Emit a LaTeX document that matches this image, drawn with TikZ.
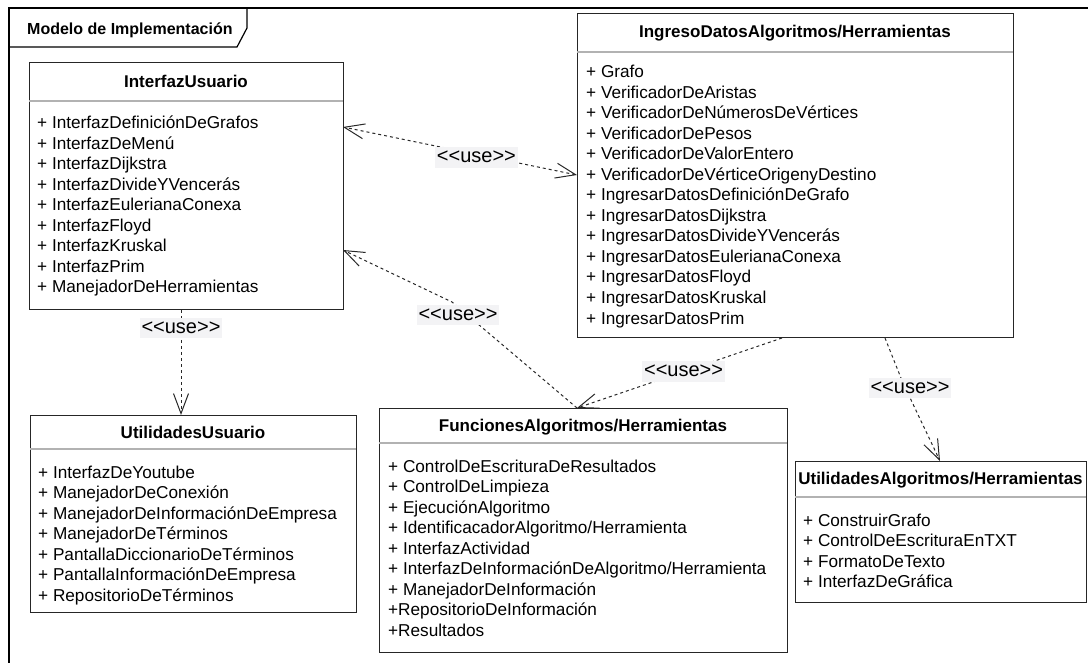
\documentclass[tikz,border=0pt]{standalone}
\usepackage{fontspec}
\setmainfont{Liberation Sans}
\usetikzlibrary{arrows.meta,calc}
\definecolor{lblbg}{RGB}{243,243,245}
\definecolor{edgecol}{RGB}{40,40,40}
\newcommand{\umlitems}[4]{%
  \foreach \itm [count=\i] in {#4} {
    \node[itemtext] (#1-\i) at (#2, {#3+(\i-1)*20.5}) {\itm};
  }}
\begin{document}
\begin{tikzpicture}[x=1pt,y=-1pt,
  >={Straight Barb[length=20pt,width=15pt]},
  classbox/.style={draw=black!85, line width=1pt, fill=white, inner sep=0pt, outer sep=0pt, anchor=north west},
  divider/.style={draw=black!30, line width=1.3pt},
  titletext/.style={font=\fontsize{17}{20}\selectfont\bfseries, inner sep=0pt, anchor=base},
  itemtext/.style={font=\fontsize{17.2}{20.5}\selectfont, inner sep=0pt, anchor=base west},
  usearrow/.style={draw=edgecol, line width=1pt, dash pattern=on 3pt off 3pt},
  lbl/.style={fill=lblbg, font=\fontsize{20}{22}\selectfont, inner xsep=2pt, inner ysep=1pt, text height=14.5pt, text depth=4pt}
]
\useasboundingbox (0,0) rectangle (1088,663);
% frame
\draw[line width=1.5pt, black] (9,663) -- (9,8) -- (1088,8);
\draw[line width=1.2pt, black] (9,47) -- (237,47) -- (247,28) -- (247,8);
\node[font=\fontsize{16}{18}\selectfont\bfseries, inner sep=0pt, anchor=base west] (frametitle) at (27,35) {Modelo de Implementación};

% InterfazUsuario
\node[classbox, minimum width=314pt, minimum height=247pt] (iu) at (29,63) {};
\draw[divider] ([yshift=-38pt]iu.north west) -- ([yshift=-38pt]iu.north east);
\node[titletext] (iu-title) at (186,88) {InterfazUsuario};
\umlitems{iu}{37}{129}{+ InterfazDefiniciónDeGrafos,+ InterfazDeMenú,+ InterfazDijkstra,+ InterfazDivideYVencerás,+ InterfazEulerianaConexa,+ InterfazFloyd,+ InterfazKruskal,+ InterfazPrim,+ ManejadorDeHerramientas}

% IngresoDatos
\node[classbox, minimum width=436pt, minimum height=324pt] (ing) at (577,14) {};
\draw[divider] ([yshift=-38pt]ing.north west) -- ([yshift=-38pt]ing.north east);
\node[titletext] (ing-title) at (795,38) {IngresoDatosAlgoritmos/Herramientas};
\umlitems{ing}{586}{78}{+ Grafo,+ VerificadorDeAristas,+ VerificadorDeNúmerosDeVértices,+ VerificadorDePesos,+ VerificadorDeValorEntero,+ VerificadorDeVérticeOrigenyDestino,+ IngresarDatosDefiniciónDeGrafo,+ IngresarDatosDijkstra,+ IngresarDatosDivideYVencerás,+ IngresarDatosEulerianaConexa,+ IngresarDatosFloyd,+ IngresarDatosKruskal,+ IngresarDatosPrim}

% UtilidadesUsuario
\node[classbox, minimum width=326pt, minimum height=197pt] (uu) at (30,415) {};
\draw[divider] ([yshift=-34pt]uu.north west) -- ([yshift=-34pt]uu.north east);
\node[titletext] (uu-title) at (193,438) {UtilidadesUsuario};
\umlitems{uu}{38}{478}{+ InterfazDeYoutube,+ ManejadorDeConexión,+ ManejadorDeInformaciónDeEmpresa,+ ManejadorDeTérminos,+ PantallaDiccionarioDeTérminos,+ PantallaInformaciónDeEmpresa,+ RepositorioDeTérminos}

% FuncionesAlgoritmos
\node[classbox, minimum width=408pt, minimum height=244pt] (fun) at (379,408) {};
\draw[divider] ([yshift=-35pt]fun.north west) -- ([yshift=-35pt]fun.north east);
\node[titletext] (fun-title) at (583,431) {FuncionesAlgoritmos/Herramientas};
\umlitems{fun}{388}{472}{+ ControlDeEscrituraDeResultados,+ ControlDeLimpieza,+ EjecuciónAlgoritmo,+ IdentificacadorAlgoritmo/Herramienta,+ InterfazActividad,+ InterfazDeInformaciónDeAlgoritmo/Herramienta,+ ManejadorDeInformación,+RepositorioDeInformación,+Resultados}

% UtilidadesAlgoritmos
\node[classbox, minimum width=291pt, minimum height=141pt] (ua) at (795,461) {};
\draw[divider] ([yshift=-36pt]ua.north west) -- ([yshift=-36pt]ua.north east);
\node[titletext] (ua-title) at (940.5,484) {UtilidadesAlgoritmos/Herramientas};
\umlitems{ua}{803}{526}{+ ConstruirGrafo,+ ControlDeEscrituraEnTXT,+ FormatoDeTexto,+ InterfazDeGráfica}

% connectors
\draw[usearrow,<->] ([yshift=-161pt]ing.north west) -- node[lbl,pos=0.43,yshift=-3pt] (l1) {<{}<use>{}>} ([yshift=-64pt]iu.north east);
\draw[usearrow,->] ([xshift=198pt]fun.north west) -- (452,302) -- ([yshift=-187pt]iu.north east);
\node[lbl] (l2) at (458,315) {<{}<use>{}>};
\draw[usearrow,->] ([xshift=205pt]ing.south west) -- node[lbl,pos=0.48] (l3) {<{}<use>{}>} ([xshift=198pt]fun.north west);
\draw[usearrow,->] ([xshift=308pt]ing.south west) -- (903,383) -- ([xshift=145pt]ua.north west);
\node[lbl] (l4) at (910,388) {<{}<use>{}>};
\draw[usearrow,->] ([xshift=152pt]iu.south west) -- node[lbl,pos=0.17] (l5) {<{}<use>{}>} ([xshift=151pt]uu.north west);
\end{tikzpicture}
\end{document}
